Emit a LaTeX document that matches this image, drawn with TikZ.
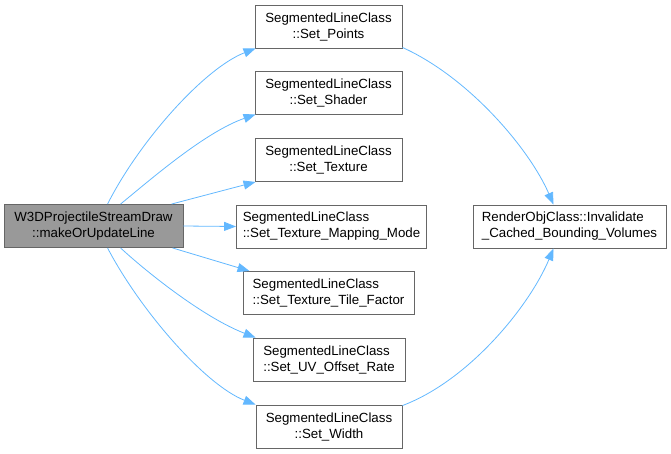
\documentclass[tikz,border=0pt]{standalone}
\usepackage{fontspec}
\setmainfont{Liberation Sans}
\usetikzlibrary{arrows.meta}
\definecolor{edgeblue}{HTML}{63B8FF}
\definecolor{nodeborder}{HTML}{666666}
\definecolor{mainfill}{HTML}{999999}
\tikzset{
  fn/.style={draw=nodeborder, line width=0.9pt, fill=white, inner sep=0pt, minimum height=43pt,
    font=\fontsize{13.3}{16}\selectfont, align=center},
  fnl/.style={fn, align=left},
  mainfn/.style={fn, fill=mainfill},
  call/.style={draw=edgeblue, line width=0.8pt, -{Triangle[length=12pt,width=9pt]}},
}
\begin{document}
\begin{tikzpicture}[x=1pt,y=-1pt]
\useasboundingbox (0,0) rectangle (671,453);
\node[mainfn, minimum width=179pt] (main) at (93.5,226) {W3DProjectileStreamDraw\\::makeOrUpdateLine};
\node[fn, minimum width=147pt] (sp) at (328.5,26.5) {SegmentedLineClass\\::Set\_Points};
\node[fn, minimum width=147pt] (ss) at (328.5,92.5) {SegmentedLineClass\\::Set\_Shader};
\node[fn, minimum width=147pt] (st) at (328.5,160) {SegmentedLineClass\\::Set\_Texture};
\node[fnl, minimum width=190pt] (stm) at (331.5,226.5) {SegmentedLineClass\\::Set\_Texture\_Mapping\_Mode};
\node[fnl, minimum width=171pt] (stt) at (328.5,293) {SegmentedLineClass\\::Set\_Texture\_Tile\_Factor};
\node[fnl, minimum width=152pt] (suv) at (329,359.5) {SegmentedLineClass\\::Set\_UV\_Offset\_Rate};
\node[fn, minimum width=146pt] (sw) at (329,426.5) {SegmentedLineClass\\::Set\_Width};
\node[fnl, minimum width=193pt] (ro) at (569.5,226.5) {RenderObjClass::Invalidate\\\_Cached\_Bounding\_Volumes};

\draw[call] ([xshift=104pt]main.north west) .. controls (140,140) and (205,68) .. ([xshift=1pt]sp.south west);
\draw[call] ([xshift=117pt]main.north west) .. controls (150,180) and (205,132) .. ([xshift=1pt]ss.south west);
\draw[call] ([xshift=168pt]main.north west) -- ([xshift=1pt]st.south west);
\draw[call] (main.east) -- (stm.west);
\draw[call] ([xshift=169pt]main.south west) -- ([xshift=7pt]stt.north west);
\draw[call] ([xshift=117pt]main.south west) .. controls (150,275) and (205,318) .. ([xshift=3pt]suv.north west);
\draw[call] ([xshift=104pt]main.south west) .. controls (140,310) and (205,385) .. ([xshift=0pt]sw.north west);
\draw[call] ([yshift=1pt]sp.south east) .. controls (470,78) and (530,150) .. ([xshift=-16pt]ro.north);
\draw[call] ([yshift=-1pt]sw.north east) .. controls (470,380) and (530,305) .. ([xshift=-16pt]ro.south);
\end{tikzpicture}
\end{document}
